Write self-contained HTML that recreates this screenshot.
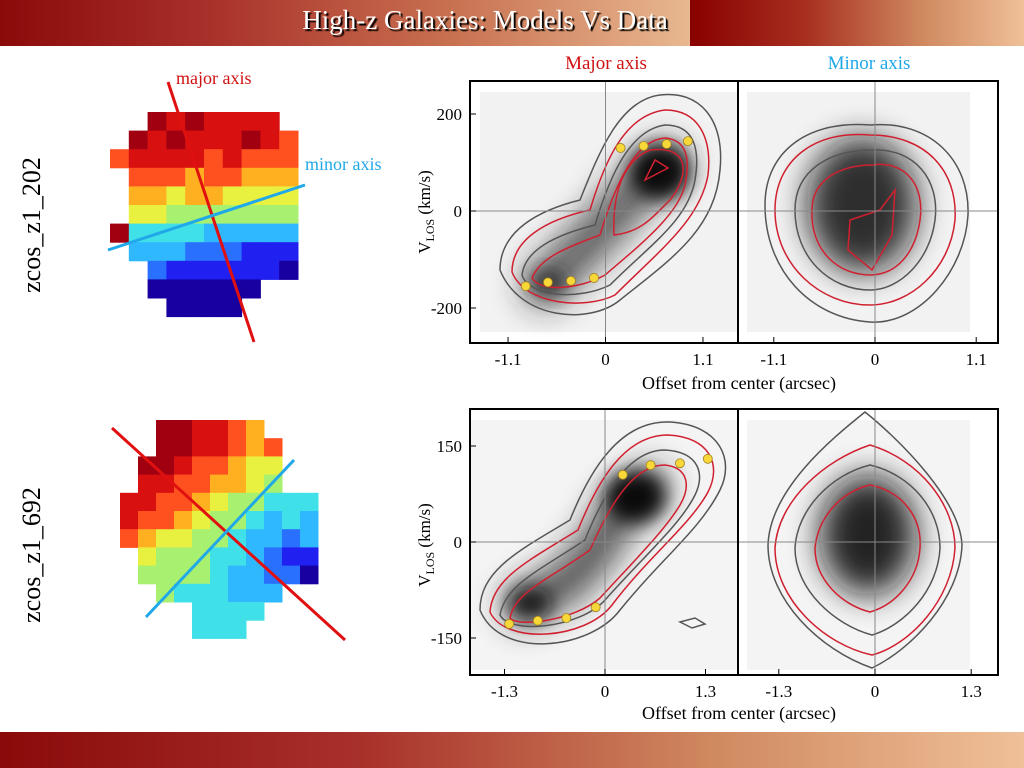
<!DOCTYPE html>
<html><head><meta charset="utf-8"><style>
body{margin:0;width:1024px;height:768px;overflow:hidden;background:#fff;font-family:"Liberation Serif",serif;position:relative}
.abs{position:absolute}
</style></head><body>
<div class="abs" style="left:0;top:0;width:690px;height:46px;background:linear-gradient(90deg,#8a0a0a 0%,#a8302a 30%,#c87050 65%,#e8b890 100%)"></div>
<div class="abs" style="left:690px;top:0;width:334px;height:46px;background:linear-gradient(90deg,#880000 0%,#a83020 35%,#d08a60 70%,#f0c098 100%)"></div>
<div class="abs" style="left:280px;top:5px;width:410px;text-align:center;color:#fff;font-size:27px;text-shadow:2px 2px 1px #000">High-z Galaxies: Models Vs Data</div>
<div class="abs" style="left:0;top:732px;width:1024px;height:36px;background:linear-gradient(90deg,#8a0a0a 0%,#a8302a 35%,#d08a60 70%,#f0c098 100%)"></div>

<svg class="abs" style="left:0;top:0" width="1024" height="768">
<defs>
<filter id="b1" x="-50%" y="-50%" width="200%" height="200%"><feGaussianBlur stdDeviation="16"/></filter>
<filter id="b2" x="-50%" y="-50%" width="200%" height="200%"><feGaussianBlur stdDeviation="9"/></filter>
<clipPath id="cTL"><rect x="471" y="81" width="266" height="262"/></clipPath>
<clipPath id="cTR"><rect x="739" y="81" width="259" height="262"/></clipPath>
<clipPath id="cBL"><rect x="471" y="409" width="266" height="266"/></clipPath>
<clipPath id="cBR"><rect x="739" y="409" width="259" height="266"/></clipPath>
</defs>
<g id="maps"></g>
<text x="30" y="215" font-size="26" transform="rotate(-90 40 215)" text-anchor="middle">zcos_z1_202</text>
<text x="30" y="545" font-size="26" transform="rotate(-90 40 545)" text-anchor="middle">zcos_z1_692</text>
<line x1="168" y1="82" x2="254" y2="342" stroke="#e01010" stroke-width="3"/>
<line x1="108" y1="250" x2="305" y2="185" stroke="#20a8e8" stroke-width="3"/>
<text x="176" y="84" font-size="18" fill="#d01010">major axis</text>
<text x="305" y="170" font-size="18" fill="#20a8e8">minor axis</text>
<line x1="112" y1="428" x2="345" y2="640" stroke="#e01010" stroke-width="3"/>
<line x1="146" y1="617" x2="294" y2="460" stroke="#20a8e8" stroke-width="3"/>

<text x="606" y="69" font-size="19" fill="#d01010" text-anchor="middle">Major axis</text>
<text x="869" y="69" font-size="19" fill="#20a8e8" text-anchor="middle">Minor axis</text>

<g clip-path="url(#cTL)">
<rect x="480" y="92" width="257" height="240" fill="#f2f2f2"/>
<path d="M545 285 L580 250 L610 220 L640 185 L665 165" stroke="#222" stroke-width="45" stroke-linecap="round" fill="none" filter="url(#b1)" opacity="0.7"/>
<ellipse cx="660" cy="172" rx="30" ry="28" fill="#000" filter="url(#b2)" opacity="0.9"/>
<ellipse cx="548" cy="283" rx="18" ry="13" fill="#222" filter="url(#b2)" opacity="0.8"/>
<path d="M500 270 C500 230 540 210 580 200 C600 150 620 100 660 95 C700 90 725 120 720 170 C715 230 670 260 620 300 C590 325 520 320 500 270Z" fill="none" stroke="#555" stroke-width="1.5"/>
<path d="M512 272 C512 240 545 220 590 210 C605 160 625 115 665 110 C700 110 712 140 708 175 C700 220 660 250 615 295 C585 310 525 305 512 272Z" fill="none" stroke="#d02030" stroke-width="1.5"/>
<path d="M522 275 C525 250 555 235 595 225 C610 175 630 130 665 125 C695 125 700 150 695 180 C688 220 650 245 610 285 C580 300 530 298 522 275Z" fill="none" stroke="#555" stroke-width="1.5"/>
<path d="M532 278 C540 258 565 248 600 235 C615 185 635 140 665 138 C688 140 690 160 685 185 C678 215 640 245 605 275 C578 290 540 292 532 278Z" fill="none" stroke="#d02030" stroke-width="1.5"/>
<path d="M614 235 C612 190 625 160 650 150 C690 145 690 175 670 200 C650 220 640 232 614 235Z" fill="none" stroke="#d02030" stroke-width="1.5"/>
<path d="M645 180 L655 160 L668 168Z" fill="none" stroke="#d02030" stroke-width="1.5"/>
</g>
<g clip-path="url(#cTR)">
<rect x="747" y="92" width="223" height="240" fill="#f2f2f2"/>
<ellipse cx="862" cy="205" rx="55" ry="68" fill="#111" filter="url(#b1)" opacity="0.85"/>
<path d="M870 125 C930 120 970 160 968 215 C965 270 920 325 870 322 C810 318 765 270 765 205 C765 150 810 120 870 125Z" fill="none" stroke="#555" stroke-width="1.5"/>
<path d="M870 135 C925 135 958 170 955 220 C950 270 910 305 870 305 C820 305 775 265 775 210 C775 160 815 130 870 135Z" fill="none" stroke="#d02030" stroke-width="1.5"/>
<path d="M872 150 C915 148 940 180 935 220 C930 260 900 290 870 290 C830 290 795 258 795 210 C795 170 830 150 872 150Z" fill="none" stroke="#555" stroke-width="1.5"/>
<path d="M872 165 C905 160 925 185 920 220 C915 255 895 275 870 275 C838 275 810 250 812 210 C812 180 840 165 872 165Z" fill="none" stroke="#d02030" stroke-width="1.5"/>
<path d="M850 220 L880 210 L895 190 L892 235 L872 270 L848 250Z" fill="none" stroke="#d02030" stroke-width="1.5"/>
</g>
<g clip-path="url(#cBL)">
<rect x="471" y="420" width="266" height="250" fill="#f4f4f4"/>
<path d="M525 605 L570 580 L600 545 L620 510 L648 487" stroke="#222" stroke-width="42" stroke-linecap="round" fill="none" filter="url(#b1)" opacity="0.75"/>
<ellipse cx="635" cy="497" rx="30" ry="26" fill="#000" filter="url(#b2)" opacity="0.9"/>
<ellipse cx="530" cy="603" rx="22" ry="16" fill="#111" filter="url(#b2)" opacity="0.85"/>
<path d="M480 610 C480 570 520 550 570 520 C590 470 620 420 670 422 C720 425 735 460 720 490 C700 530 660 560 620 610 C590 650 500 660 480 610Z" fill="none" stroke="#555" stroke-width="1.5"/>
<path d="M490 612 C492 578 530 560 578 530 C598 480 625 435 668 435 C710 437 722 465 708 492 C690 525 650 555 612 605 C585 640 505 645 490 612Z" fill="none" stroke="#d02030" stroke-width="1.5"/>
<path d="M500 615 C505 585 540 570 585 540 C605 490 630 450 665 450 C700 452 705 475 695 495 C680 525 645 555 605 600 C580 628 510 635 500 615Z" fill="none" stroke="#555" stroke-width="1.5"/>
<path d="M510 618 C515 592 548 580 590 550 C612 500 635 465 665 465 C690 468 690 488 680 505 C665 530 635 560 600 598 C575 620 518 628 510 618Z" fill="none" stroke="#d02030" stroke-width="1.5"/>
<path d="M680 622 L695 618 L705 624 L692 628Z" fill="none" stroke="#555" stroke-width="1.5"/>
</g>
<g clip-path="url(#cBR)">
<rect x="747" y="420" width="223" height="250" fill="#f4f4f4"/>
<ellipse cx="868" cy="535" rx="48" ry="60" fill="#111" filter="url(#b1)" opacity="0.9"/>
<path d="M865 412 C900 440 960 500 962 545 C960 600 910 650 872 668 C820 650 768 600 768 545 C770 490 830 440 865 412Z" fill="none" stroke="#555" stroke-width="1.5"/>
<path d="M870 445 C920 460 955 505 955 548 C952 600 910 645 872 655 C825 645 775 600 775 548 C778 500 825 460 870 445Z" fill="none" stroke="#d02030" stroke-width="1.5"/>
<path d="M870 465 C912 475 940 510 940 548 C938 590 905 625 872 635 C835 625 795 590 795 548 C797 510 830 475 870 465Z" fill="none" stroke="#555" stroke-width="1.5"/>
<path d="M870 485 C905 492 922 520 920 548 C918 580 895 605 870 612 C842 605 815 580 815 548 C818 518 840 492 870 485Z" fill="none" stroke="#d02030" stroke-width="1.5"/>
</g>
<g id="axes"></g>
</svg>
<script>
const NS='http://www.w3.org/2000/svg';
const jet=['#1800a0','#2020f0','#2a70ff','#30b8ff','#40e0e8','#a8f070','#e8f040','#ffb020','#ff5020','#d81010','#a00010'];
const mapTop=[
[-1,-1,10,9,10,9,9,9,9,-1],
[-1,10,9,10,9,9,9,10,9,8],
[8,9,9,9,9,8,9,8,8,8],
[-1,8,8,8,7,8,8,7,7,7],
[-1,7,7,6,7,7,6,6,6,6],
[-1,6,6,5,5,5,5,5,5,5],
[10,4,4,4,4,3,3,3,3,3],
[-1,3,3,3,2,2,2,1,1,1],
[-1,-1,2,1,1,1,1,1,1,0],
[-1,-1,0,0,0,0,0,0,-1,-1],
[-1,-1,-1,0,0,0,0,-1,-1,-1]];
const mapBot=[
[-1,-1,10,10,9,9,8,7,-1,-1,-1],
[-1,-1,10,10,9,9,8,7,8,-1,-1],
[-1,10,10,9,8,8,7,6,6,-1,-1],
[-1,9,9,8,8,7,7,6,5,-1,-1],
[9,9,8,8,7,6,5,5,4,4,4],
[9,8,8,7,6,5,5,4,3,4,3],
[8,7,6,6,5,5,4,3,3,2,3],
[-1,6,5,5,5,4,4,3,2,1,1],
[-1,5,5,5,5,4,3,3,2,2,0],
[-1,-1,5,4,4,4,3,3,3,-1,-1],
[-1,-1,-1,-1,4,4,4,4,-1,-1,-1],
[-1,-1,-1,-1,4,4,4,-1,-1,-1,-1]];
function drawMap(m,x0,y0,w,h,name){
 const g=document.createElementNS(NS,'g');
 
 
 m.forEach((row,r)=>row.forEach((v,c)=>{ if(v<0)return;
  const e=document.createElementNS(NS,'rect');
  e.setAttribute('x',x0+c*w);e.setAttribute('y',y0+r*h);e.setAttribute('width',w+0.5);e.setAttribute('height',h+0.5);e.setAttribute('fill',jet[v]);
  
  
  g.appendChild(e);}));
 document.getElementById('maps').appendChild(g);
}
drawMap(mapTop,110,112,18.8,18.6,'velocity-map-top');
drawMap(mapBot,120,420,18,18.2,'velocity-map-bottom');

const topMajX=[-0.90,-0.65,-0.39,-0.13,0.17,0.43,0.69,0.93];
const topMajV=[-155,-147,-144,-138,130,134,138,144];
const botMajX=[-1.24,-0.87,-0.50,-0.12,0.23,0.59,0.97,1.33];
const botMajV=[-128,-123,-119,-102,105,120,123,130];
const topXTicksL=[-1.1,0,1.1];const topXTicksR=[-1.1,0,1.1];
const topYTicks=[200,0,-200];
const botXTicksL=[-1.3,0,1.3];const botXTicksR=[-1.3,0,1.3];
const botYTicks=[150,0,-150];

function el(t,a,name){const e=document.createElementNS(NS,t);for(const k in a)e.setAttribute(k,a[k]);
 
 
 document.getElementById('axes').appendChild(e);return e;}
function panel(y0,y1,xL,xR,yS,xt,xtR,yt,dx,dv,yLabelMid,xLabY,fmt){
 const sxL=v=>xL.c+v*xL.k, sxR=v=>xR.c+v*xR.k, sy=v=>yS.c-v*yS.k;
 el('line',{x1:471,y1:sy(0),x2:998,y2:sy(0),stroke:'#888','stroke-width':1},'zero-line');
 el('line',{x1:sxL(0),y1:y0,x2:sxL(0),y2:y1,stroke:'#888','stroke-width':1},'center-line-left');
 el('line',{x1:sxR(0),y1:y0,x2:sxR(0),y2:y1,stroke:'#888','stroke-width':1},'center-line-right');
 el('rect',{x:470,y:y0,width:528,height:y1-y0,fill:'none',stroke:'#000','stroke-width':2},'plot-frame');
 el('line',{x1:738,y1:y0,x2:738,y2:y1,stroke:'#000','stroke-width':2},'panel-divider');
 xt.forEach(v=>{el('line',{x1:sxL(v),y1:y1,x2:sxL(v),y2:y1-6,stroke:'#000'},'x-tick');
  el('text',{x:sxL(v),y:y1+22,'font-size':17,'text-anchor':'middle'},'x-tick-label').textContent=fmt(v);});
 xtR.forEach(v=>{el('line',{x1:sxR(v),y1:y1,x2:sxR(v),y2:y1-6,stroke:'#000'},'x-tick');
  el('text',{x:sxR(v),y:y1+22,'font-size':17,'text-anchor':'middle'},'x-tick-label').textContent=fmt(v);});
 yt.forEach(v=>{el('line',{x1:470,y1:sy(v),x2:476,y2:sy(v),stroke:'#000'},'y-tick');
  el('text',{x:462,y:sy(v)+6,'font-size':17,'text-anchor':'end'},'y-tick-label').textContent=v;});
 dx.forEach((v,i)=>el('circle',{cx:sxL(v),cy:sy(dv[i]),r:4.5,fill:'#f8d838',stroke:'#a08020','stroke-width':0.8},'data-point'));
 const t=el('text',{x:0,y:0,'font-size':17,'text-anchor':'middle',transform:`translate(430 ${yLabelMid}) rotate(-90)`},'y-axis-title');
 t.innerHTML='V<tspan font-size="12" dy="4">LOS</tspan><tspan dy="-4"> (km/s)</tspan>';
 el('text',{x:739,y:xLabY,'font-size':18,'text-anchor':'middle'},'x-axis-title').textContent='Offset from center (arcsec)';
}
const f1=v=>v===0?'0':v.toFixed(1);
panel(81,343,{c:605.5,k:88.6},{c:875,k:92},{c:211,k:0.485},topXTicksL,topXTicksR,topYTicks,topMajX,topMajV,212,389,f1);
panel(409,675,{c:605,k:77.3},{c:875,k:74},{c:542,k:0.64},botXTicksL,botXTicksR,botYTicks,botMajX,botMajV,545,719,f1);
</script>
</body></html>
